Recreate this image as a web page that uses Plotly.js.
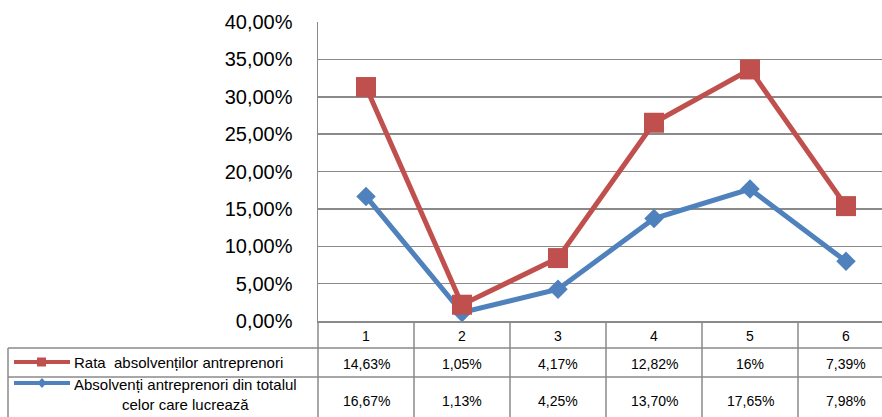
<!DOCTYPE html>
<html>
<head>
<meta charset="utf-8">
<script src="https://cdn.plot.ly/plotly-3.0.1.min.js"></script>
<style>html,body{margin:0;padding:0;background:#fff;}#chart{width:882px;height:417px;}</style>
</head>
<body>
<div id="chart"></div>
<script>
// ---- data ----
const categories = [1, 2, 3, 4, 5, 6];
const categoryLabels = ['1', '2', '3', '4', '5', '6'];
const seriesRataName = 'Rata\u00a0 absolvenților antreprenori';
const seriesAbsName = 'Absolvenți antreprenori din totalul<br>celor care lucrează';
const rataAbsolventilor = [0.1463, 0.0105, 0.0417, 0.1282, 0.16, 0.0739];
const absolventiDinTotal = [0.1667, 0.0113, 0.0425, 0.1370, 0.1765, 0.0798];
const rataLabels = ['14,63%', '1,05%', '4,17%', '12,82%', '16%', '7,39%'];
const absLabels = ['16,67%', '1,13%', '4,25%', '13,70%', '17,65%', '7,98%'];
const yTickValues = [0, 0.05, 0.10, 0.15, 0.20, 0.25, 0.30, 0.35, 0.40];

// ---- layout helpers (pixel -> paper) ----
const W = 882, H = 417, ML = 318, MR = 0, MT = 22, MB = 96;
const PW = W - ML - MR, PH = H - MT - MB;
const px = x => (x - ML) / PW;
const py = y => (H - MB - y) / PH;

const RED = '#C0504D', BLUE = '#4F81BD', GRID = '#8a8a8a';
const FONT = 'Liberation Sans, Arial, sans-serif';

const traces = [
  {
    x: categories, y: absolventiDinTotal, name: seriesAbsName,
    type: 'scatter', mode: 'lines+markers', stackgroup: 'one', fill: 'none',
    line: {color: BLUE, width: 5},
    marker: {symbol: 'diamond', size: 15, color: BLUE},
    showlegend: false, hoverinfo: 'skip'
  },
  {
    x: categories, y: rataAbsolventilor, name: seriesRataName,
    type: 'scatter', mode: 'lines+markers', stackgroup: 'one', fill: 'none',
    line: {color: RED, width: 5},
    marker: {symbol: 'square', size: 20, color: RED},
    showlegend: false, hoverinfo: 'skip'
  }
];

const shapes = [];
const annotations = [];
const lineStyle = {color: GRID, width: 1.5};

// table horizontal rules
[348, 377].forEach(y => shapes.push({type: 'line', xref: 'paper', yref: 'paper',
  x0: px(8), x1: 1, y0: py(y), y1: py(y), line: lineStyle}));
// table left border and axis extension
shapes.push({type: 'line', xref: 'paper', yref: 'paper', x0: px(8), x1: px(8), y0: py(348), y1: py(H), line: lineStyle});
shapes.push({type: 'line', xref: 'paper', yref: 'paper', x0: 0, x1: 0, y0: 0, y1: py(H), line: lineStyle});
// column dividers between categories
categories.slice(0, -1).forEach(c => shapes.push({type: 'line', xref: 'x', yref: 'paper',
  x0: c + 0.5, x1: c + 0.5, y0: 0, y1: py(H), line: lineStyle}));

// legend keys
shapes.push({type: 'line', xref: 'paper', yref: 'paper', x0: px(14), x1: px(70), y0: py(362), y1: py(362), line: {color: RED, width: 4}});
shapes.push({type: 'rect', xref: 'paper', yref: 'paper', x0: px(37), x1: px(46), y0: py(357.5), y1: py(366.5), line: {width: 0}, fillcolor: RED});
shapes.push({type: 'line', xref: 'paper', yref: 'paper', x0: px(14), x1: px(70), y0: py(383), y1: py(383), line: {color: BLUE, width: 4}});
shapes.push({type: 'path', xref: 'paper', yref: 'paper',
  path: `M ${px(42)} ${py(378)} L ${px(46.5)} ${py(383)} L ${px(42)} ${py(388)} L ${px(37.5)} ${py(383)} Z`,
  line: {width: 0}, fillcolor: BLUE});

// legend labels
annotations.push({xref: 'paper', yref: 'paper', x: px(72), y: py(362), xanchor: 'left', yanchor: 'middle',
  text: seriesRataName, showarrow: false, font: {family: FONT, size: 15, color: '#000'}});
annotations.push({xref: 'paper', yref: 'paper', x: px(72), y: py(394), xanchor: 'left', yanchor: 'middle',
  text: seriesAbsName, align: 'center', showarrow: false, font: {family: FONT, size: 15, color: '#000'}});

// table cells
categories.forEach((c, i) => {
  annotations.push({xref: 'x', yref: 'paper', x: c, y: py(336), yanchor: 'middle', showarrow: false,
    text: categoryLabels[i], font: {family: FONT, size: 14, color: '#000'}});
  annotations.push({xref: 'x', yref: 'paper', x: c, y: py(364), yanchor: 'middle', showarrow: false,
    text: rataLabels[i], font: {family: FONT, size: 14, color: '#000'}});
  annotations.push({xref: 'x', yref: 'paper', x: c, y: py(401), yanchor: 'middle', showarrow: false,
    text: absLabels[i], font: {family: FONT, size: 14, color: '#000'}});
});

const layout = {
  width: W, height: H,
  margin: {l: ML, r: MR, t: MT, b: MB, pad: 0},
  paper_bgcolor: '#fff', plot_bgcolor: '#fff',
  separators: ', ',
  font: {family: FONT, color: '#000'},
  xaxis: {
    range: [0.5, 0.5 + PW / 96], showgrid: false, showticklabels: false, zeroline: false,
    showline: true, linecolor: GRID, linewidth: 1.5, ticks: '', fixedrange: true
  },
  yaxis: {
    range: [0, 0.40], tickvals: yTickValues, tickformat: '.2%',
    showgrid: true, gridcolor: GRID, gridwidth: 1.5, zeroline: false,
    showline: true, linecolor: GRID, linewidth: 1.5, ticks: '',
    ticklabelstandoff: 20, tickfont: {family: FONT, size: 20, color: '#000'}, fixedrange: true
  },
  shapes: shapes,
  annotations: annotations,
  showlegend: false
};

Plotly.newPlot('chart', traces, layout, {displayModeBar: false, staticPlot: true});
</script>
</body>
</html>
